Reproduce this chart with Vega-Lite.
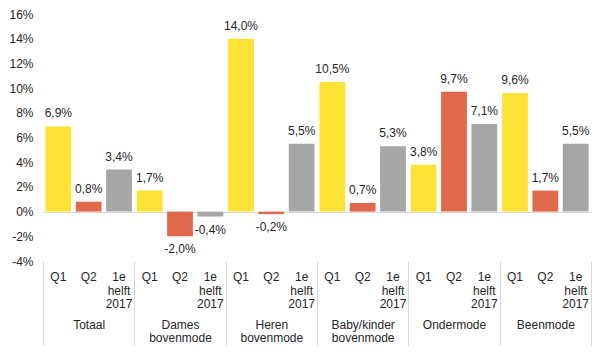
{
  "$schema": "https://vega.github.io/schema/vega-lite/v6.json",
  "width": 548,
  "height": 247,
  "autosize": {"type": "none"},
  "padding": {"left": 43, "top": 14, "right": 5, "bottom": 91},
  "config": {"view": {"stroke": null}, "font": "Liberation Sans"},
  "data": {"values": [
    {"cat": "Totaal", "period": "Q1", "value": 6.9},
    {"cat": "Totaal", "period": "Q2", "value": 0.8},
    {"cat": "Totaal", "period": "1e helft 2017", "value": 3.4},
    {"cat": "Dames bovenmode", "period": "Q1", "value": 1.7},
    {"cat": "Dames bovenmode", "period": "Q2", "value": -2.0},
    {"cat": "Dames bovenmode", "period": "1e helft 2017", "value": -0.4},
    {"cat": "Heren bovenmode", "period": "Q1", "value": 14.0},
    {"cat": "Heren bovenmode", "period": "Q2", "value": -0.2},
    {"cat": "Heren bovenmode", "period": "1e helft 2017", "value": 5.5},
    {"cat": "Baby/kinder bovenmode", "period": "Q1", "value": 10.5},
    {"cat": "Baby/kinder bovenmode", "period": "Q2", "value": 0.7},
    {"cat": "Baby/kinder bovenmode", "period": "1e helft 2017", "value": 5.3},
    {"cat": "Ondermode", "period": "Q1", "value": 3.8},
    {"cat": "Ondermode", "period": "Q2", "value": 9.7},
    {"cat": "Ondermode", "period": "1e helft 2017", "value": 7.1},
    {"cat": "Beenmode", "period": "Q1", "value": 9.6},
    {"cat": "Beenmode", "period": "Q2", "value": 1.7},
    {"cat": "Beenmode", "period": "1e helft 2017", "value": 5.5}
  ]},
  "transform": [
    {"calculate": "replace(replace(format(datum.value, '.1f'), '.', ','), '\u2212', '-') + '%'", "as": "label"}
  ],
  "encoding": {
    "y": {
      "field": "value", "type": "quantitative",
      "scale": {"domain": [-4, 16], "nice": false, "zero": false},
      "axis": {
        "title": null, "domain": false, "ticks": false,
        "grid": true, "gridColor": "#D9D9D9",
        "gridOpacity": {"condition": {"test": "datum.value === 0", "value": 1}, "value": 0},
        "values": [-4, -2, 0, 2, 4, 6, 8, 10, 12, 14, 16],
        "labelOverlap": false,
        "labelExpr": "datum.value + '%'",
        "labelPadding": 10, "labelFontSize": 12, "labelColor": "#262626",
        "labelFont": "Liberation Sans"
      }
    }
  },
  "layer": [
    {
      "mark": {"type": "bar"},
      "encoding": {
        "x": {
          "field": "cat", "type": "nominal", "sort": null,
          "scale": {"paddingInner": 0, "paddingOuter": 0},
          "axis": {
            "title": null, "orient": "bottom", "domain": false,
            "tickBand": "extent", "tickSize": 84, "tickColor": "#D9D9D9", "tickWidth": 1,
            "labelPadding": -26, "labelAngle": 0,
            "labelExpr": "split(datum.label, ' ')",
            "labelFontSize": 12, "labelLineHeight": 13.5, "labelColor": "#262626",
            "labelBaseline": "top", "labelFont": "Liberation Sans"
          }
        },
        "xOffset": {"field": "period", "type": "nominal", "sort": null,
          "scale": {"paddingInner": 0.15, "paddingOuter": 0.08}},
        "color": {
          "field": "period", "type": "nominal", "sort": null,
          "scale": {"domain": ["Q1", "Q2", "1e helft 2017"], "range": ["#FFE236", "#E0694B", "#A6A6A6"]},
          "legend": null
        }
      }
    },
    {
      "transform": [{"filter": "datum.value >= 0"}],
      "mark": {"type": "text", "baseline": "middle", "dy": -13, "fontSize": 12, "color": "#262626"},
      "encoding": {
        "x": {"field": "cat", "type": "nominal", "sort": null},
        "xOffset": {"field": "period", "type": "nominal", "sort": null},
        "text": {"field": "label"}
      }
    },
    {
      "transform": [{"filter": "datum.value < 0"}],
      "mark": {"type": "text", "baseline": "middle", "dy": 13, "fontSize": 12, "color": "#262626"},
      "encoding": {
        "x": {"field": "cat", "type": "nominal", "sort": null},
        "xOffset": {"field": "period", "type": "nominal", "sort": null},
        "text": {"field": "label"}
      }
    },
    {
      "mark": {"type": "text", "baseline": "top", "dy": 11, "fontSize": 12, "lineBreak": " ", "lineHeight": 13.5, "color": "#262626"},
      "encoding": {
        "x": {"field": "cat", "type": "nominal", "sort": null},
        "xOffset": {"field": "period", "type": "nominal", "sort": null},
        "y": {"datum": -4, "type": "quantitative"},
        "text": {"field": "period"}
      }
    }
  ]
}
